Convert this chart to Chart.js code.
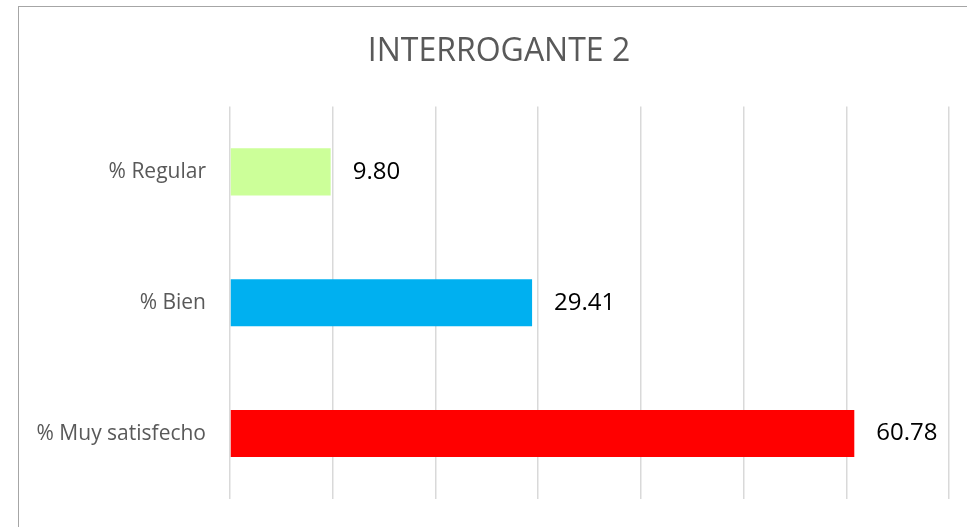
<!DOCTYPE html>
<html>
<head>
<meta charset="utf-8">
<script src="https://cdn.jsdelivr.net/npm/chart.js@4"></script>
<style>
  html, body { margin: 0; padding: 0; background: #fff; overflow: hidden; }
  #wrap { position: absolute; left: 18px; top: 6px; width: 962px; height: 540px;
          border: 1px solid #a6a6a6; box-sizing: border-box; }
</style>
</head>
<body>
<div id="wrap"><canvas id="chart_interrogante"></canvas></div>
<script>
// datos
var categorias = ["% Regular", "% Bien", "% Muy satisfecho"];
var valores = [9.80, 29.41, 60.78];
var colores = ["#CCFF99", "#00B0F0", "#FF0000"];

// etiquetas de valor al final de cada barra
var etiquetas = {
    id: 'etiquetas',
    afterDatasetsDraw: function (chart) {
        var ctx = chart.ctx;
        var meta = chart.getDatasetMeta(0);
        ctx.save();
        ctx.font = '24px "Open Sans"';
        ctx.fillStyle = '#000000';
        ctx.textAlign = 'left';
        ctx.textBaseline = 'middle';
        meta.data.forEach(function (barra, i) {
            ctx.fillText(valores[i].toFixed(2), barra.x + 22, barra.y);
        });
        ctx.restore();
    }
};

var ctx = document.getElementById('chart_interrogante').getContext('2d');
var grafico = new Chart(ctx, {
    type: 'bar',
    data: {
        labels: categorias,
        datasets: [{
            data: valores,
            backgroundColor: colores,
            borderWidth: 0,
            barPercentage: 0.36,
            categoryPercentage: 1
        }]
    },
    options: {
        indexAxis: 'y',
        responsive: true,
        maintainAspectRatio: false,
        animation: false,
        layout: { padding: { left: 0, right: 0, top: 0, bottom: 46 } },
        plugins: {
            legend: { display: false },
            tooltip: { enabled: false },
            title: {
                display: true,
                text: 'INTERROGANTE 2',
                color: '#595959',
                font: { family: 'Open Sans', size: 32, weight: 'normal' },
                padding: { top: 26, bottom: 35 }
            }
        },
        scales: {
            x: {
                min: 0,
                max: 70,
                ticks: { display: false, stepSize: 10 },
                grid: { color: '#d9d9d9', lineWidth: 1.5, drawTicks: false },
                border: { display: false },
                afterFit: function (scale) { scale.height = 0; }
            },
            y: {
                ticks: {
                    color: '#595959',
                    font: { family: 'Open Sans', size: 21 },
                    padding: 24
                },
                grid: { display: false, drawTicks: false },
                border: { display: false },
                afterFit: function (scale) { scale.width = 211; }
            },
            // eje vacio a la derecha, solo deja el margen
            yDer: {
                type: 'category',
                position: 'right',
                ticks: { display: false },
                grid: { display: false, drawTicks: false },
                border: { display: false },
                afterFit: function (scale) { scale.width = 30; }
            }
        }
    },
    plugins: [etiquetas]
});
</script>
</body>
</html>
